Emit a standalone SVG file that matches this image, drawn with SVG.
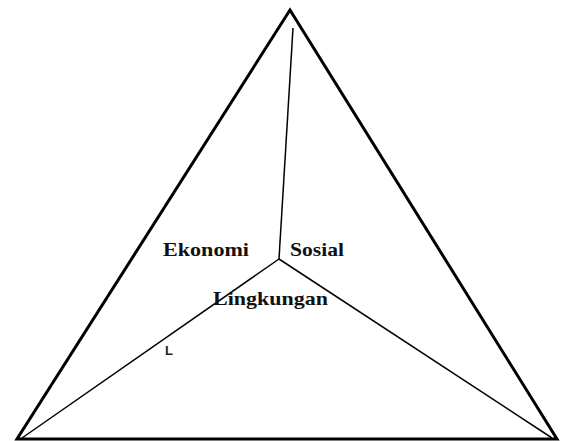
<svg xmlns="http://www.w3.org/2000/svg" width="567" height="441" viewBox="0 0 567 441">
<style>
.outer{fill:none;stroke:#000;stroke-width:3;stroke-linejoin:miter}
.inner{fill:none;stroke:#000;stroke-width:1.5}
.lbl{font-family:"Liberation Serif",serif;font-weight:bold;font-size:19px;fill:#111}
.small{font-family:"Liberation Sans",sans-serif;font-weight:bold;font-size:13px;fill:#222}
</style>
<rect width="567" height="441" fill="#fff"/>
<g id="triangle">
<polygon class="outer" points="290,10 17,439 557,439"/>
</g>
<g id="connectors">
<line class="inner" x1="279" y1="259" x2="293" y2="28"/>
<line class="inner" x1="279" y1="259" x2="22" y2="438"/>
<line class="inner" x1="279" y1="259" x2="552" y2="438"/>
</g>
<g id="ekonomi"><text class="lbl" x="163" y="256" textLength="86" lengthAdjust="spacingAndGlyphs">Ekonomi</text></g>
<g id="sosial"><text class="lbl" x="290" y="256" textLength="54" lengthAdjust="spacingAndGlyphs">Sosial</text></g>
<g id="lingkungan"><text class="lbl" x="213" y="305" textLength="115" lengthAdjust="spacingAndGlyphs">Lingkungan</text></g>
<g id="l"><text class="small" x="165" y="355">L</text></g>
</svg>
